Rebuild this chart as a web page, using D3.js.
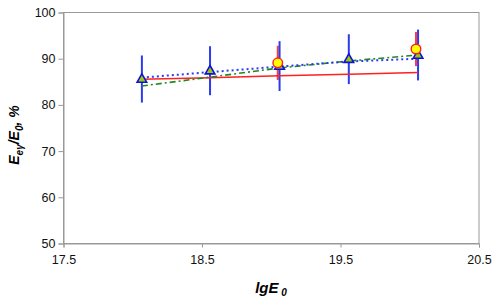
<!DOCTYPE html>
<html><head><meta charset="utf-8">
<script src="https://cdn.jsdelivr.net/npm/d3@7/dist/d3.min.js"></script>
<style>body{margin:0;background:#fff}svg{display:block}</style>
</head><body><svg id="c" width="498" height="301"></svg>
<script>
// Data
const xTicks = [17.5, 18.5, 19.5, 20.5];
const yTicks = [50, 60, 70, 80, 90, 100];
// triangles (blue) with error bars
const triX = [18.066, 18.558, 19.06, 19.56, 20.06];
const triY = [85.6, 87.4, 88.4, 89.9, 90.8];
const triErr = [5.1, 5.3, 5.4, 5.4, 5.5];
// circles (red) with error bars
const circX = [19.047, 20.045];
const circY = [89.1, 92.1];
const circErr = [3.7, 3.7];
// fit curves
const fitX = [18.066, 18.558, 19.06, 19.56, 20.06];
const redFit = [85.55, 85.9, 86.3, 86.65, 87.0];
const blueFit = [85.9, 87.1, 88.3, 89.4, 90.0];
const greenFit = [84.1, 86.0, 88.0, 89.5, 90.8];

const svg = d3.select("#c");
const L = 63.5, R = 479, T = 12.5, B = 243.5;
const x = d3.scaleLinear().domain([17.5, 20.5]).range([L, R]);
const y = d3.scaleLinear().domain([50, 100]).range([B, T]);
const axisColor = "#999";
const font = "Liberation Sans, Arial, sans-serif";

// frame
svg.append("rect").attr("x", L).attr("y", T).attr("width", R - L).attr("height", B - T)
  .attr("fill", "none").attr("stroke", axisColor).attr("stroke-width", 1);

const yAxis = svg.append("g").attr("transform", `translate(${L},0)`)
  .call(d3.axisLeft(y).tickValues(yTicks).tickSize(5).tickPadding(3).tickFormat(d3.format("d")));
const xAxis = svg.append("g").attr("transform", `translate(0,${B})`)
  .call(d3.axisBottom(x).tickValues(xTicks).tickSize(4).tickPadding(8).tickFormat(d3.format(".1f")));
[yAxis, xAxis].forEach(a => {
  a.select(".domain").attr("stroke", axisColor);
  a.selectAll(".tick line").attr("stroke", axisColor);
  a.selectAll(".tick text").attr("fill", "#111").style("font-family", font).style("font-size", "12.5px");
});

const clip = svg.append("g");
const line = d3.line().x(d => x(d[0])).y(d => y(d[1]));
function drawFit(vals, color, dash, w) {
  clip.append("path").datum(fitX.map((v, i) => [v, vals[i]]))
    .attr("d", line).attr("fill", "none").attr("stroke", color)
    .attr("stroke-width", w).attr("stroke-dasharray", dash);
}
// error bars
clip.selectAll(".eb-r").data(circX).enter().append("line")
  .attr("x1", d => x(d)).attr("x2", d => x(d))
  .attr("y1", (d, i) => y(circY[i] + circErr[i])).attr("y2", (d, i) => y(circY[i] - circErr[i]))
  .attr("stroke", "#ff3b3b").attr("stroke-width", 2);
clip.selectAll(".eb-b").data(triX).enter().append("line")
  .attr("x1", d => x(d)).attr("x2", d => x(d))
  .attr("y1", (d, i) => y(triY[i] + triErr[i])).attr("y2", (d, i) => y(triY[i] - triErr[i]))
  .attr("stroke", "#2b3cf0").attr("stroke-width", 2);

drawFit(redFit, "#ff2020", null, 1.5);
drawFit(greenFit, "#1e8a1e", "6,3,2,3", 1.6);
drawFit(blueFit, "#2b3cf0", "2,3", 2);

// triangles
const triPath = "M0,-5.2L4.8,3.2L-4.8,3.2Z";
clip.selectAll(".tri").data(triX).enter().append("path")
  .attr("d", triPath)
  .attr("transform", (d, i) => `translate(${x(d)},${y(triY[i])})`)
  .attr("fill", "#99cc00").attr("stroke", "#1010e0").attr("stroke-width", 1.6);
// circles
clip.selectAll(".circ").data(circX).enter().append("circle")
  .attr("cx", d => x(d)).attr("cy", (d, i) => y(circY[i])).attr("r", 4.8)
  .attr("fill", "#ffff00").attr("stroke", "#ff2020").attr("stroke-width", 1.4);

// y title
const yt = svg.append("text").attr("transform", "translate(19,135) rotate(-90)")
  .attr("text-anchor", "middle").style("font-family", font).style("font-size", "14px")
  .style("font-weight", "bold").style("font-style", "italic").attr("fill", "#000");
yt.append("tspan").text("E");
yt.append("tspan").text("eγ").attr("dy", 4).style("font-size", "10px");
yt.append("tspan").text("/E").attr("dy", -4);
yt.append("tspan").text("0").attr("dy", 4).style("font-size", "10px");
yt.append("tspan").text(", %").attr("dy", -4);

// x title
const xt = svg.append("text").attr("x", 271).attr("y", 293)
  .attr("text-anchor", "middle").style("font-family", font).style("font-size", "15px")
  .style("font-weight", "bold").style("font-style", "italic").attr("fill", "#000");
xt.append("tspan").text("lgE");
xt.append("tspan").text(" 0").attr("dy", 3).style("font-size", "10px");
</script></body></html>
